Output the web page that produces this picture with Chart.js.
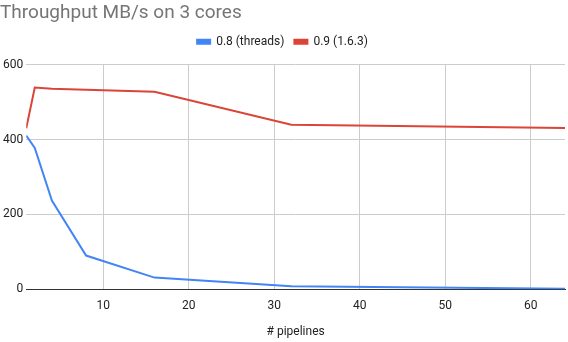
<!DOCTYPE html>
<html lang="en">
<head>
    <meta charset="UTF-8">
    <title>Throughput</title>
    <script src="https://cdn.jsdelivr.net/npm/chart.js@4/dist/chart.umd.min.js"></script>
    <style>
        body { margin: 0; background: #fff; }
    </style>
</head>
<body>
    <div style="width: 568px; height: 342px;">
        <canvas id="wykres" width="568" height="342"></canvas>
    </div>
    <script>
        // data
        const pipelines = [1, 2, 4, 8, 16, 32, 64];
        const threads08 = [411, 378, 237, 90, 31, 8, 1];
        const v09 = [430, 539, 536, 533, 528, 440, 431];
        const xTicks = [10, 20, 30, 40, 50, 60];
        const yTicks = [0, 200, 400, 600];

        const pts = (ys) => pipelines.map((x, i) => ({ x: x, y: ys[i] }));

        const tickFont = { family: "Roboto", size: 12 };

        const ctx = document.getElementById('wykres').getContext('2d');
        const wykres = new Chart(ctx, {
            type: 'line',
            data: {
                datasets: [
                    {
                        label: "0.8 (threads)",
                        data: pts(threads08),
                        borderColor: "#4285f4",
                        backgroundColor: "#4285f4",
                        borderWidth: 2,
                        pointRadius: 0,
                        tension: 0
                    },
                    {
                        label: "0.9 (1.6.3)",
                        data: pts(v09),
                        borderColor: "#db4437",
                        backgroundColor: "#db4437",
                        borderWidth: 2,
                        pointRadius: 0,
                        tension: 0
                    }
                ]
            },
            options: {
                responsive: false,
                animation: false,
                layout: { padding: { left: 0, right: 3, top: 0, bottom: 3 } },
                plugins: {
                    title: {
                        display: true,
                        text: "Throughput MB/s on 3 cores",
                        align: 'start',
                        color: "#757575",
                        font: { family: "Roboto", size: 19, weight: 'normal' },
                        padding: { top: 1.5, bottom: 1.5 }
                    },
                    legend: {
                        labels: {
                            boxWidth: 13,
                            boxHeight: 4,
                            color: "#222",
                            font: tickFont,
                            padding: 10
                        }
                    },
                    tooltip: { enabled: false }
                },
                scales: {
                    x: {
                        type: 'linear',
                        min: 1,
                        max: 64,
                        afterBuildTicks: (axis) => { axis.ticks = xTicks.map(v => ({ value: v })); },
                        ticks: { color: "#222", font: tickFont, padding: 10 },
                        grid: { color: "#ccc", drawTicks: false },
                        border: { color: "#333", width: 1 },
                        title: {
                            display: true,
                            text: "# pipelines",
                            color: "#222",
                            font: tickFont,
                            padding: { top: 1, bottom: 0 }
                        }
                    },
                    // empty strip between legend and plot
                    gap: {
                        type: 'linear',
                        axis: 'x',
                        position: 'top',
                        grid: { display: false },
                        ticks: { display: false },
                        border: { display: false },
                        afterFit: (s) => { s.height = 7; }
                    },
                    y: {
                        min: 0,
                        max: 600,
                        afterBuildTicks: (axis) => { axis.ticks = yTicks.map(v => ({ value: v })); },
                        ticks: { color: "#222", font: tickFont, padding: 3 },
                        grid: {
                            color: (c) => c.tick && c.tick.value === 0 ? "#333" : "#ccc",
                            drawTicks: false
                        },
                        border: { display: false }
                    }
                }
            }
        });
    </script>
</body>
</html>
